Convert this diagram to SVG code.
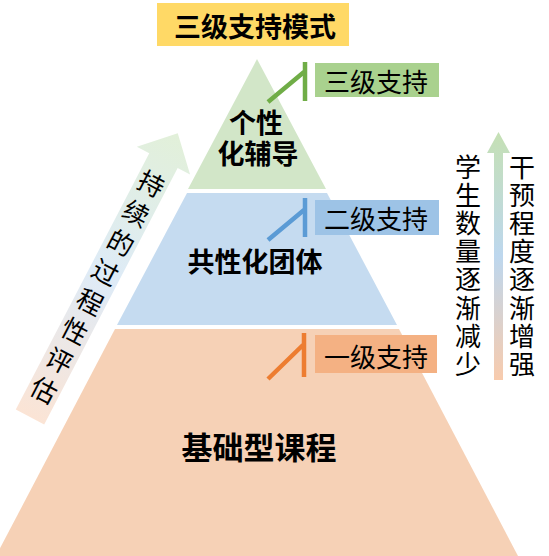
<svg xmlns="http://www.w3.org/2000/svg" width="549" height="556" viewBox="0 0 549 556">
<style>
text{font-family:"Noto Sans CJK SC","Noto Sans CJK TC",sans-serif;text-anchor:middle;dominant-baseline:central;fill:#000}
.b{font-weight:bold}
.lab{font-size:26px;font-weight:normal}
.vt{font-size:26px}
.conn{fill:none;stroke-width:4.5;stroke-linecap:butt}
</style>
<defs>
<linearGradient id="gl" gradientUnits="userSpaceOnUse" x1="0" y1="0" x2="0" y2="-320">
<stop offset="0" stop-color="#FBE4D5"/>
<stop offset="0.5" stop-color="#DEEBF7"/>
<stop offset="1" stop-color="#E2F0D9"/>
</linearGradient>
<linearGradient id="gr" gradientUnits="userSpaceOnUse" x1="0" y1="380" x2="0" y2="132">
<stop offset="0" stop-color="#F8CBAD"/>
<stop offset="0.5" stop-color="#BDD7EE"/>
<stop offset="1" stop-color="#C5E0B4"/>
</linearGradient>
</defs>
<rect width="549" height="556" fill="#fff"/>

<g id="title">
<rect x="157" y="3" width="192" height="43" fill="#FFD966"/>
<text x="255" y="25" class="b" font-size="27">三级支持模式</text>
</g>

<g id="level3">
<polygon points="257,59 326,189 188,189" fill="#D2E6C8"/>
<text x="256" y="121" class="b" font-size="27">个性</text>
<text x="258" y="152" class="b" font-size="27">化辅导</text>
</g>

<g id="level2">
<polygon points="187,193 327,193 397,325 117,325" fill="#C5DBF0"/>
<text x="255" y="260" class="b" font-size="27">共性化团体</text>
</g>

<g id="level1">
<polygon points="115,329 399,329 518,556 -4,556" fill="#F6D1B6"/>
<text x="259" y="445" class="b" font-size="31">基础型课程</text>
</g>

<g id="label3">
<rect x="315" y="63" width="124" height="34" fill="#A9D18E"/>
<text x="376" y="80" class="lab">三级支持</text>
</g>
<g id="label2">
<rect x="315" y="200" width="124" height="35" fill="#9DC3E6"/>
<text x="376" y="217" class="lab">二级支持</text>
</g>
<g id="label1">
<rect x="315" y="335" width="122" height="38" fill="#F4B183"/>
<text x="376" y="355" class="lab">一级支持</text>
</g>

<g id="connectors">
<path class="conn" stroke="#70AD47" d="M305,62 V101 M304,72 L268,102"/>
<path class="conn" stroke="#5B9BD5" d="M305,198 V237 M304,210 L268,240"/>
<path class="conn" stroke="#ED7D31" d="M304,333 V377 M303,345 L268,379"/>
</g>

<g id="eval-arrow" transform="translate(30,417) rotate(27.5)">
<path d="M-16,0 L16,0 L16,-289 L30,-289 L0,-320 L-30,-289 L-16,-289 Z" fill="url(#gl)"/>
<text class="vt" font-size="27" x="0">
<tspan x="0" y="-265">持</tspan><tspan x="0" y="-231.8">续</tspan><tspan x="0" y="-198.6">的</tspan><tspan x="0" y="-165.4">过</tspan><tspan x="0" y="-132.2">程</tspan><tspan x="0" y="-99">性</tspan><tspan x="0" y="-65.8">评</tspan><tspan x="0" y="-32.6">估</tspan>
</text>
</g>

<g id="trend-arrow">
<path d="M494,380 V153 H487 L498.5,132 L510,153 H503 V380 Z" fill="url(#gr)"/>
<text class="vt"><tspan x="468" y="165">学</tspan><tspan x="468" y="193.1">生</tspan><tspan x="468" y="221.2">数</tspan><tspan x="468" y="249.3">量</tspan><tspan x="468" y="277.4">逐</tspan><tspan x="468" y="305.5">渐</tspan><tspan x="468" y="333.6">减</tspan><tspan x="468" y="361.7">少</tspan></text>
<text class="vt"><tspan x="522" y="165">干</tspan><tspan x="522" y="193.1">预</tspan><tspan x="522" y="221.2">程</tspan><tspan x="522" y="249.3">度</tspan><tspan x="522" y="277.4">逐</tspan><tspan x="522" y="305.5">渐</tspan><tspan x="522" y="333.6">增</tspan><tspan x="522" y="361.7">强</tspan></text>
</g>
</svg>
